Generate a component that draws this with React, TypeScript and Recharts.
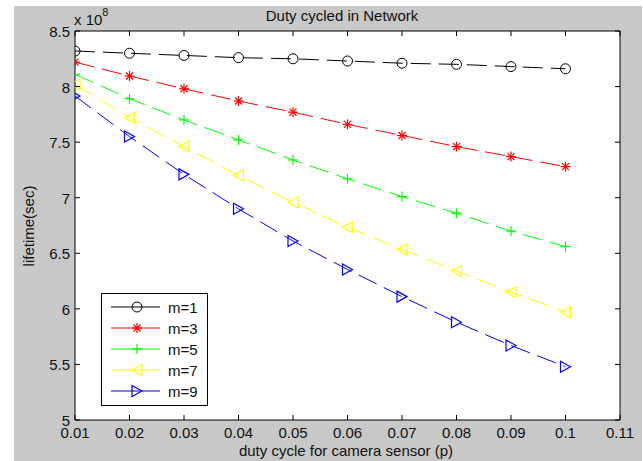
import React from "react";
import { LineChart, Line, XAxis, YAxis, CartesianGrid } from "recharts";

// ── Data (lifetime in units of 1e8 sec) ───────────────────────────────────
const DUTY = [0.01, 0.02, 0.03, 0.04, 0.05, 0.06, 0.07, 0.08, 0.09, 0.1];
const M1 = [8.32, 8.3, 8.28, 8.26, 8.25, 8.23, 8.21, 8.2, 8.18, 8.16];
const M3 = [8.22, 8.095, 7.98, 7.87, 7.77, 7.66, 7.56, 7.46, 7.37, 7.28];
const M5 = [8.11, 7.89, 7.7, 7.52, 7.34, 7.17, 7.01, 6.86, 6.7, 6.56];
const M7 = [8.02, 7.72, 7.46, 7.2, 6.96, 6.735, 6.535, 6.34, 6.15, 5.97];
const M9 = [7.915, 7.55, 7.21, 6.9, 6.61, 6.355, 6.11, 5.88, 5.67, 5.48];

const X_TICKS = [0.01, 0.02, 0.03, 0.04, 0.05, 0.06, 0.07, 0.08, 0.09, 0.1, 0.11];
const Y_TICKS = [5, 5.5, 6, 6.5, 7, 7.5, 8, 8.5];

const data = DUTY.map((p, i) => ({ p, m1: M1[i], m3: M3[i], m5: M5[i], m7: M7[i], m9: M9[i] }));

const SERIES = [
  { key: "m1", name: "m=1", color: "#000000", shape: "circle" },
  { key: "m3", name: "m=3", color: "#ff0000", shape: "star" },
  { key: "m5", name: "m=5", color: "#00ff00", shape: "plus" },
  { key: "m7", name: "m=7", color: "#ffff00", shape: "triLeft" },
  { key: "m9", name: "m=9", color: "#0000ff", shape: "triRight" },
];

const FONT = "'Liberation Sans', Arial, sans-serif";
const TXT = "#111";

// ── Markers ────────────────────────────────────────────────────────────────
const Marker = ({ shape, color, cx, cy }: { shape: string; color: string; cx: number; cy: number }) => {
  const s = 5;
  switch (shape) {
    case "circle":
      return <circle cx={cx} cy={cy} r={s} fill="none" stroke={color} strokeWidth={1} />;
    case "star":
      return (
        <g stroke={color} strokeWidth={1.2}>
          <line x1={cx - s} y1={cy} x2={cx + s} y2={cy} />
          <line x1={cx} y1={cy - s} x2={cx} y2={cy + s} />
          <line x1={cx - 3.5} y1={cy - 3.5} x2={cx + 3.5} y2={cy + 3.5} />
          <line x1={cx - 3.5} y1={cy + 3.5} x2={cx + 3.5} y2={cy - 3.5} />
        </g>
      );
    case "plus":
      return (
        <g stroke={color} strokeWidth={1.2}>
          <line x1={cx - s} y1={cy} x2={cx + s} y2={cy} />
          <line x1={cx} y1={cy - s} x2={cx} y2={cy + s} />
        </g>
      );
    case "triLeft":
      return (
        <polygon
          points={`${cx - s},${cy} ${cx + s},${cy - 5.5} ${cx + s},${cy + 5.5}`}
          fill="none" stroke={color} strokeWidth={1.2}
        />
      );
    default:
      return (
        <polygon
          points={`${cx + s},${cy} ${cx - s},${cy - 5.5} ${cx - s},${cy + 5.5}`}
          fill="none" stroke={color} strokeWidth={1.2}
        />
      );
  }
};

// ── Inward ticks (MATLAB style) ───────────────────────────────────────────
const BottomTick = ({ x, y, payload }: any) => (
  <g>
    <line x1={x} y1={y} x2={x} y2={y - 5} stroke="#000" />
    <text x={x} y={y + 18} textAnchor="middle" fontSize={15} fontFamily={FONT} fill={TXT}>
      {String(payload.value)}
    </text>
  </g>
);
const TopTick = ({ x, y }: any) => <line x1={x} y1={y} x2={x} y2={y + 5} stroke="#000" />;
const LeftTick = ({ x, y, payload }: any) => (
  <g>
    <line x1={x} y1={y} x2={x + 5} y2={y} stroke="#000" />
    <text x={x - 5} y={y + 6} textAnchor="end" fontSize={15} fontFamily={FONT} fill={TXT}>
      {String(payload.value)}
    </text>
  </g>
);
const RightTick = ({ x, y }: any) => <line x1={x} y1={y} x2={x - 5} y2={y} stroke="#000" />;

export default function App() {
  return (
    <div style={{ position: "absolute", left: 0, top: 0, width: 643, height: 461, background: "#fff", fontFamily: FONT }}>
      <div style={{ position: "absolute", left: 14, top: 6, width: 628, height: 455, background: "#c8c8c8" }} />
      <div style={{ position: "absolute", left: 0, top: 0 }}>
        <LineChart width={643} height={461} data={data} margin={{ top: 30, right: 22, bottom: 40, left: 74 }}>
          <CartesianGrid horizontal={false} vertical={false} fill="#ffffff" />
          <XAxis
            dataKey="p" type="number" domain={[0.01, 0.11]} ticks={X_TICKS} allowDataOverflow
            height={1} tickSize={0} tickMargin={0} interval={0}
            axisLine={{ stroke: "#000" }} tickLine={false} tick={<BottomTick />}
          />
          <XAxis
            xAxisId="top" orientation="top" dataKey="p" type="number" domain={[0.01, 0.11]} ticks={X_TICKS}
            allowDataOverflow height={1} tickSize={0} tickMargin={0} interval={0}
            axisLine={{ stroke: "#000" }} tickLine={false} tick={<TopTick />}
          />
          <YAxis
            type="number" domain={[5, 8.5]} ticks={Y_TICKS} allowDataOverflow
            width={1} tickSize={0} tickMargin={0} interval={0}
            axisLine={{ stroke: "#000" }} tickLine={false} tick={<LeftTick />}
          />
          <YAxis
            yAxisId="right" orientation="right" type="number" domain={[5, 8.5]} ticks={Y_TICKS} allowDataOverflow
            width={1} tickSize={0} tickMargin={0} interval={0}
            axisLine={{ stroke: "#000" }} tickLine={false} tick={<RightTick />}
          />
          {SERIES.map((s) => (
            <Line
              key={s.key}
              type="linear"
              dataKey={s.key}
              name={s.name}
              stroke={s.color}
              strokeWidth={1}
              strokeDasharray="20 8"
              isAnimationActive={false}
              dot={(props: any) => (
                <Marker key={`${s.key}-${props.index}`} shape={s.shape} color={s.color} cx={props.cx} cy={props.cy} />
              )}
            />
          ))}
        </LineChart>
      </div>

      {/* ── Text overlay + legend ── */}
      <svg width={643} height={461} style={{ position: "absolute", left: 0, top: 0, pointerEvents: "none" }}>
        <text x={342} y={21} textAnchor="middle" fontSize={15} fontFamily={FONT} fill={TXT}>
          Duty cycled in Network
        </text>
        <text x={74} y={25} fontSize={15} fontFamily={FONT} fill={TXT}>
          x 10
          <tspan dy={-9} fontSize={11}>8</tspan>
        </text>
        <text x={346} y={456} textAnchor="middle" fontSize={15} fontFamily={FONT} fill={TXT}>
          duty cycle for camera sensor (p)
        </text>
        <text
          x={0} y={0} textAnchor="middle" fontSize={15} fontFamily={FONT} fill={TXT}
          transform="translate(34,226) rotate(-90)"
        >
          lifetime(sec)
        </text>

        <rect x={101.5} y={293.5} width={106} height={112} fill="#fff" stroke="#000" />
        {SERIES.map((s, i) => {
          const y = 307 + i * 21;
          return (
            <g key={s.key}>
              <line x1={111} y1={y} x2={160} y2={y} stroke={s.color} />
              <Marker shape={s.shape} color={s.color} cx={137} cy={y} />
              <text x={168} y={y + 6} fontSize={15} fontFamily={FONT} fill={TXT}>{s.name}</text>
            </g>
          );
        })}
      </svg>
    </div>
  );
}
